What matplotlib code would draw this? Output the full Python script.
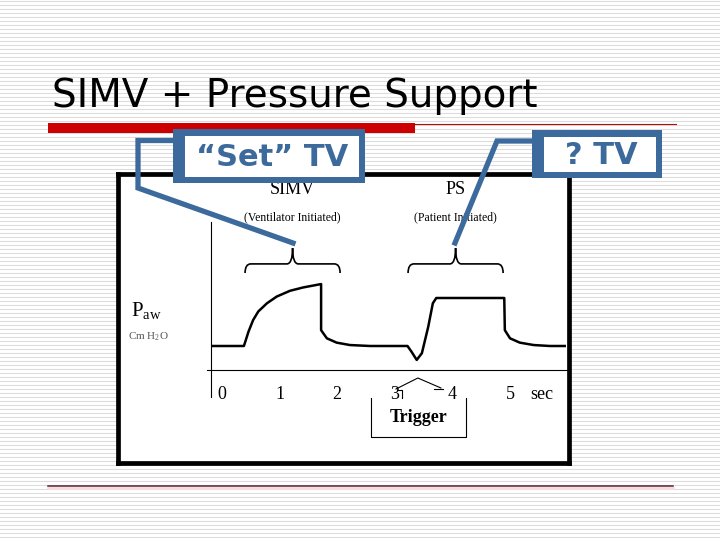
import matplotlib.pyplot as plt
import matplotlib.patches as mpatches
from matplotlib.path import Path

plt.rcParams['mathtext.fontset'] = 'custom'
plt.rcParams['mathtext.rm'] = 'Liberation Serif'
plt.rcParams['mathtext.it'] = 'Liberation Serif:italic'

# airway pressure trace (time in sec, pressure in cm H2O)
t_wave = [-0.17, 0.38, 0.46, 0.54, 0.63, 0.78, 0.95, 1.18, 1.41, 1.72, 1.72, 1.82, 1.99,
          2.22, 2.57, 3.22, 3.29, 3.38, 3.47, 3.58, 3.66, 3.72, 4.90, 4.91, 5.00, 5.17,
          5.41, 5.69, 5.95]
p_wave = [5.0, 5.0, 8.0, 10.4, 12.2, 13.9, 15.3, 16.5, 17.2, 17.9, 8.3, 6.6, 5.7,
          5.2, 5.0, 5.0, 3.8, 2.1, 3.5, 9.0, 13.9, 15.0, 15.0, 8.3, 6.6, 5.7,
          5.2, 5.0, 5.0]
tick_vals = [0, 1, 2, 3, 4, 5]
tick_labels = ["0", "1", "2", "3", "4", "5"]
breath_names = ["SIMV", "PS"]
breath_notes = ["(Ventilator Initiated)", "(Patient Initiated)"]
breath_spans = [(0.40, 2.05), (3.23, 4.88)]

BLUE = "#3d6a9c"

fig = plt.figure(figsize=(7.2, 5.4), dpi=100)

# slide background in pixel coordinates
bg = fig.add_axes([0, 0, 1, 1], zorder=0)
bg.set_xlim(0, 720)
bg.set_ylim(540, 0)
bg.axis("off")
for yy in range(0, 540, 4):
    bg.plot([0, 720], [yy + 0.5, yy + 0.5], color="#dcdcdc", lw=0.75, zorder=1)

bg.text(52, 96, "SIMV + Pressure Support", fontsize=28, family="DejaVu Sans",
        va="center", ha="left", color="black", zorder=3)
bg.add_patch(mpatches.Rectangle((48, 123), 367, 10, color="#cc0000", lw=0, zorder=3))
bg.plot([415, 676], [123.5, 123.5], color="#b01010", lw=0.8, zorder=3)
bg.plot([48, 673], [488, 488], color="#f6dcdc", lw=2, zorder=3)
bg.plot([48, 673], [486, 486], color="#5a2030", lw=1.1, zorder=3)

# the waveform panel
ax = fig.add_axes([118 / 720, 1 - 463 / 540, 451 / 720, 289 / 540], zorder=1)
ax.set_xlim(-1.806, 6.024)
ax.set_ylim(-19.375, 40.83)
ax.set_xticks([])
ax.set_yticks([])
for s in ax.spines.values():
    s.set_linewidth(3.4)
    s.set_color("black")

ax.plot(t_wave, p_wave, color="black", lw=1.8, solid_joinstyle="round")
ax.plot([-0.26, 6.1], [0, 0], color="black", lw=0.8)
ax.plot([-0.19, -0.19], [30.8, -5.6], color="black", lw=0.8)

serif = "Liberation Serif"
for v, lab in zip(tick_vals, tick_labels):
    ax.text(v, -5.2, lab, fontsize=13, family=serif, ha="center", va="center")
ax.text(5.55, -5.2, "sec", fontsize=13, family=serif, ha="center", va="center")

for (a, b), name, note in zip(breath_spans, breath_names, breath_notes):
    c = (a + b) / 2
    ax.text(c, 37.6, name, fontsize=13, family=serif, ha="center", va="center")
    ax.text(c, 31.9, note, fontsize=8.5, family=serif, ha="center", va="center")
    yb, ym, yt = 20.2, 22.1, 25.4
    dx = 0.1
    verts = [(a, yb), (a, ym), (a + dx, ym), (c - dx, ym), (c, ym), (c, yt),
             (c, ym), (c + dx, ym), (b - dx, ym), (b, ym), (b, yb)]
    codes = [Path.MOVETO, Path.CURVE3, Path.CURVE3, Path.LINETO, Path.CURVE3, Path.CURVE3,
             Path.CURVE3, Path.CURVE3, Path.LINETO, Path.CURVE3, Path.CURVE3]
    ax.add_patch(mpatches.PathPatch(Path(verts, codes), fill=False, lw=1.2, color="black"))

ax.text(-1.31, 12.3, r"P$_{\mathrm{aw}}$", fontsize=15, family=serif, ha="center", va="center")
ax.text(-1.28, 6.9, r"Cm H$_2$O", fontsize=8, family=serif, ha="center", va="center",
        color="#555555")

# trigger note
ax.plot([2.587, 2.587, 4.236, 4.236], [-5.83, -13.96, -13.96, -5.83], color="black", lw=0.8)
ax.text(3.41, -10.0, "Trigger", fontsize=13, family=serif, weight="bold",
        ha="center", va="center")
ax.plot([3.02, 3.40, 3.80], [-3.96, -1.67, -3.75], color="black", lw=0.8)
ax.plot([3.056, 3.125, 3.125], [-4.17, -4.17, -5.83], color="black", lw=0.8)
ax.plot([3.68, 3.84], [-3.96, -3.96], color="black", lw=0.8)

# callouts on top
top = fig.add_axes([0, 0, 1, 1], zorder=3)
top.set_xlim(0, 720)
top.set_ylim(540, 0)
top.axis("off")
top.patch.set_alpha(0)

top.plot([175, 138, 138, 293], [140.5, 140.5, 188, 243], color=BLUE, lw=3.8,
         solid_joinstyle="miter")
top.plot([534, 497, 455], [141, 141, 243], color=BLUE, lw=3.8, solid_joinstyle="miter")


def box(x0, y0, x1, y1, label, cx, fs):
    top.add_patch(mpatches.Rectangle((x0, y0), x1 - x0, y1 - y0, color=BLUE, lw=0))
    top.add_patch(mpatches.Rectangle((x0 + 12, y0 + 6.5), x1 - x0 - 18.5, y1 - y0 - 13,
                                     color="white", lw=0))
    top.text(cx, (y0 + y1) / 2 + 1, label, fontsize=fs, family="DejaVu Sans",
             weight="bold", color=BLUE, ha="center", va="center")


box(173, 129, 365, 183, "\u201cSet\u201d TV", 272, 22)
box(532, 130, 662, 178, "? TV", 601, 22)

fig.savefig("out.png", dpi=100)
